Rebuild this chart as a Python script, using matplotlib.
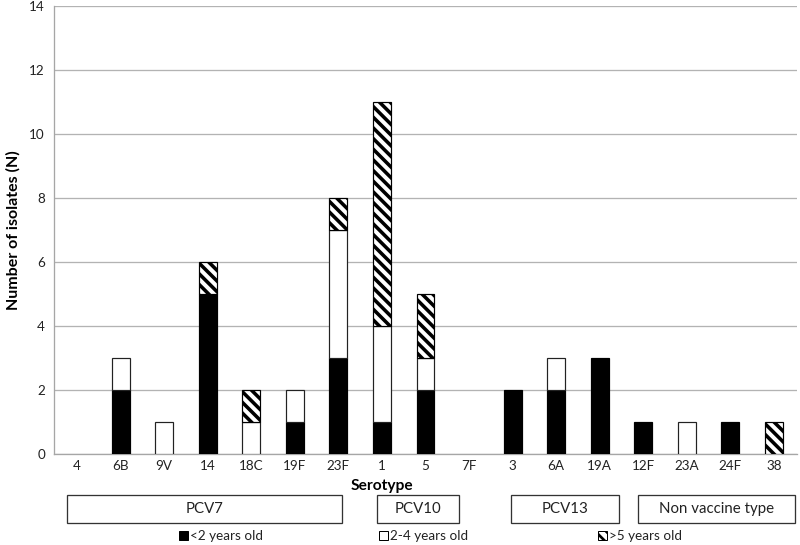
import numpy as np
import matplotlib
matplotlib.use("Agg")
import matplotlib.pyplot as plt
from matplotlib.patches import Rectangle

serotypes = ["4", "6B", "9V", "14", "18C", "19F", "23F", "1", "5", "7F",
             "3", "6A", "19A", "12F", "23A", "24F", "38"]
under2 = [0, 2, 0, 5, 0, 1, 3, 1, 2, 0, 2, 2, 3, 1, 0, 1, 0]
age2_4 = [0, 1, 1, 0, 1, 1, 4, 3, 1, 0, 0, 1, 0, 0, 1, 0, 0]
over5 = [0, 0, 0, 1, 1, 0, 1, 7, 2, 0, 0, 0, 0, 0, 0, 0, 1]

groups = ["PCV7", "PCV10", "PCV13", "Non vaccine type"]
legend_labels = ["<2 years old", "2-4 years old", ">5 years old"]

DPI = 128
W, H = 800, 545
plt.rcParams["font.family"] = ["Lato", "DejaVu Sans"]
plt.rcParams["hatch.linewidth"] = 2.0
plt.rcParams["hatch.color"] = "black"

def pt(px):
    return px * 72.0 / DPI

fig = plt.figure(figsize=(W / DPI, H / DPI), dpi=DPI)
ax = fig.add_axes([54 / W, 1 - 454 / H, (797 - 54) / W, (454 - 6) / H])

x = np.arange(len(serotypes))
a = np.array(under2)
b = np.array(age2_4)
c = np.array(over5)
bw = 0.41
ew = pt(1.2)

def stack(vals, bottom, **kw):
    m = vals > 0  # skip empty segments so no stray edge lines appear
    ax.bar(x[m], vals[m], bw, bottom=bottom[m], linewidth=ew, zorder=3, **kw)

stack(a, np.zeros_like(a), color="black", edgecolor="black")
stack(b, a, color="white", edgecolor="#222222")
stack(c, a + b, color="white", edgecolor="black", hatch="\\\\\\\\")

ax.set_xlim(-0.53, len(serotypes) - 0.47)
ax.set_ylim(0, 14)
ax.set_yticks(range(0, 15, 2))
ax.set_xticks(x)
ax.set_xticklabels(serotypes)
ax.tick_params(axis="both", length=0, labelsize=pt(13.5), labelcolor="#222222")
ax.tick_params(axis="x", pad=pt(6))
ax.tick_params(axis="y", pad=pt(9))
ax.yaxis.grid(True, color="#b3b3b3", linewidth=pt(1.3), zorder=0)
ax.set_axisbelow(True)
for s in ["top", "right"]:
    ax.spines[s].set_visible(False)
for s in ["left", "bottom"]:
    ax.spines[s].set_color("#a6a6a6")
    ax.spines[s].set_linewidth(pt(1.3))

ax.set_ylabel("Number of isolates (N)", fontsize=pt(16), fontweight="bold",
              labelpad=pt(9))
fig.text(382 / W, 1 - 486 / H, "Serotype", fontsize=pt(15.5), fontweight="bold",
         ha="center", va="center")

# vaccine group boxes
boxes = [(67, 342), (377, 459), (511, 619), (638, 795)]
for name, (x0, x1) in zip(groups, boxes):
    fig.add_artist(Rectangle((x0 / W, 1 - 523 / H), (x1 - x0) / W, 28 / H,
                             transform=fig.transFigure, facecolor="none",
                             edgecolor="#333333", linewidth=pt(1.3)))
    fig.text((x0 + x1) / 2 / W, 1 - 509 / H, name, fontsize=pt(15),
             ha="center", va="center", color="#222222")

# legend
leg_x = [179, 379, 598]
styles = [dict(facecolor="black", edgecolor="black"),
          dict(facecolor="white", edgecolor="black"),
          dict(facecolor="white", edgecolor="black", hatch="\\\\\\\\")]
for lx, lab, st in zip(leg_x, legend_labels, styles):
    with plt.rc_context({"hatch.linewidth": 1.5}):
        fig.add_artist(Rectangle((lx / W, 1 - 540 / H), 9 / W, 9 / H,
                                 transform=fig.transFigure, linewidth=pt(1), **st))
    fig.text((lx + 11) / W, 1 - 535.5 / H, lab, fontsize=pt(13.5),
             ha="left", va="center", color="#222222")

fig.savefig("out.png", dpi=DPI)
